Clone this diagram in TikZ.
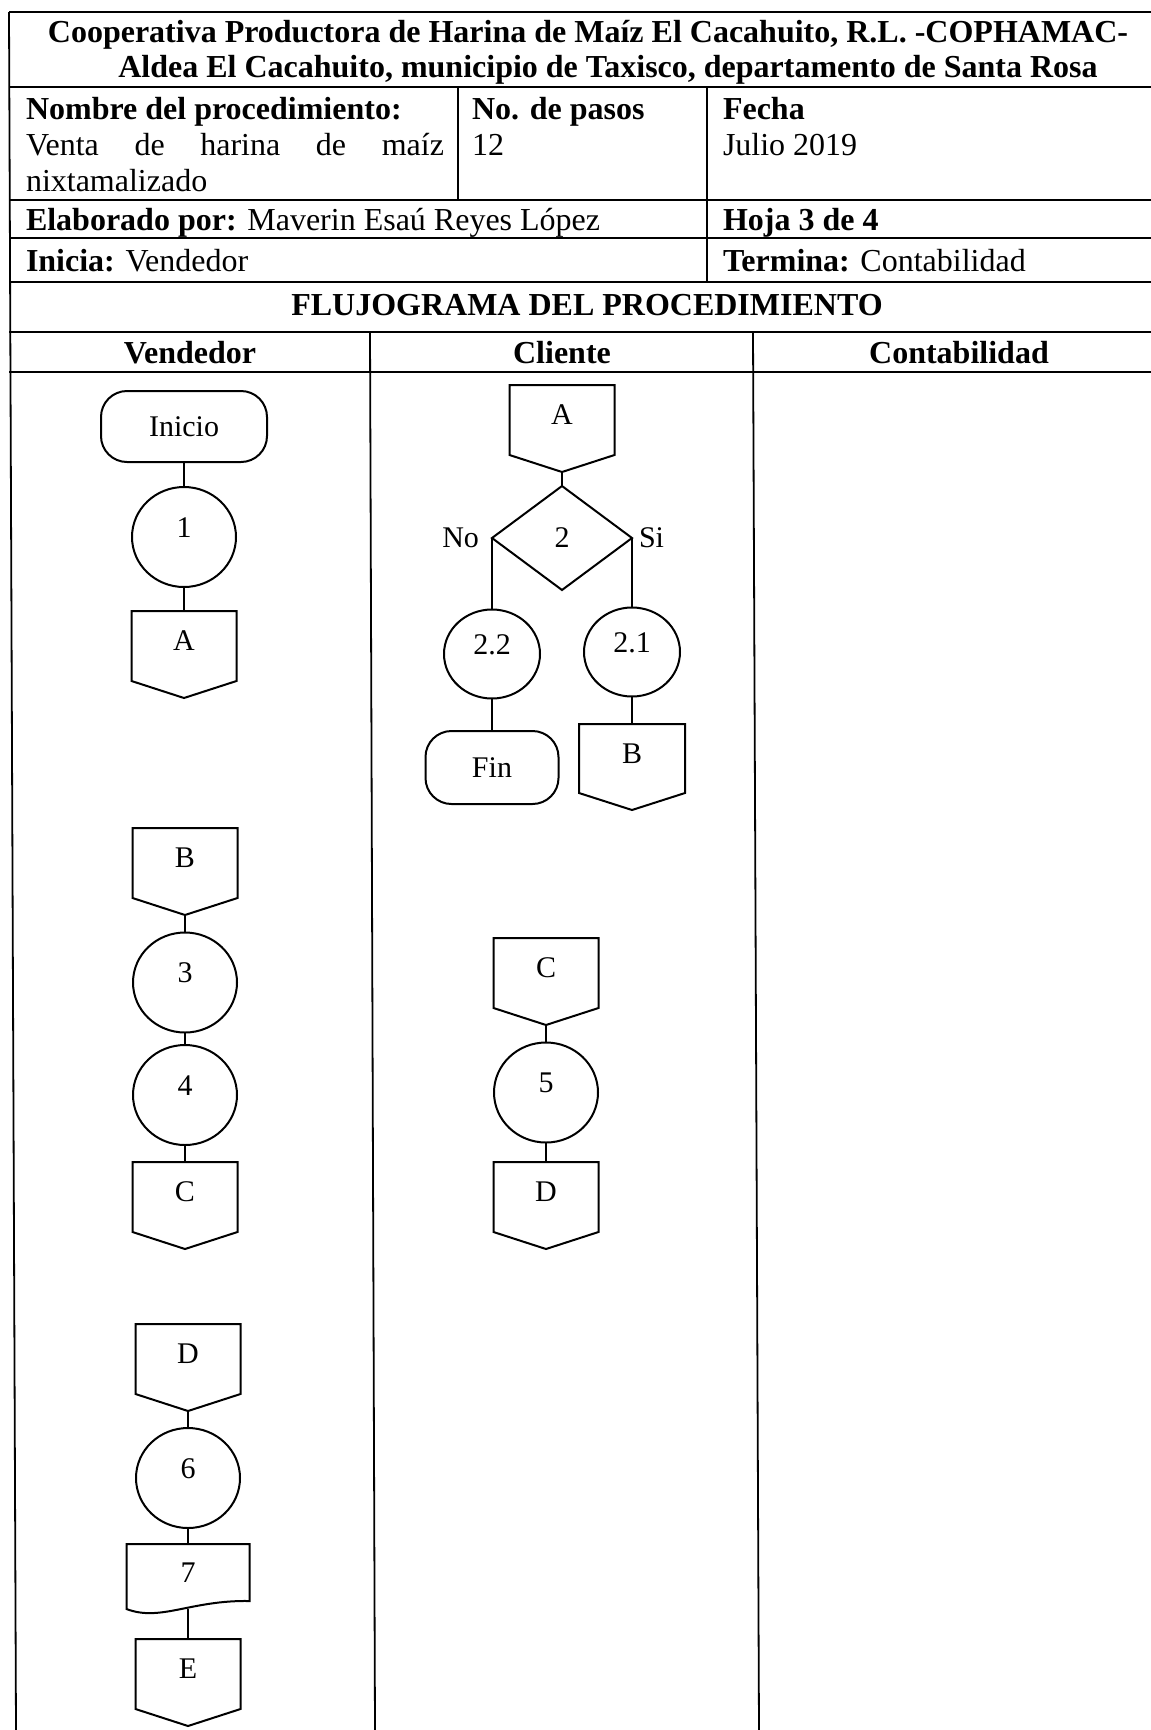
\documentclass[tikz,border=0pt]{standalone}
\usepackage{fontspec}
\setmainfont{Liberation Serif}
\usetikzlibrary{shapes.geometric}
\makeatletter
\newdimen\offtipdim
\offtipdim=17pt
\pgfdeclareshape{offpagecon}{
  \inheritsavedanchors[from=rectangle]
  \inheritanchorborder[from=rectangle]
  \inheritanchor[from=rectangle]{center}
  \inheritanchor[from=rectangle]{text}
  \inheritanchor[from=rectangle]{base}
  \inheritanchor[from=rectangle]{mid}
  \inheritanchor[from=rectangle]{north}
  \inheritanchor[from=rectangle]{south}
  \inheritanchor[from=rectangle]{west}
  \inheritanchor[from=rectangle]{east}
  \inheritanchor[from=rectangle]{north west}
  \inheritanchor[from=rectangle]{north east}
  \inheritanchor[from=rectangle]{south west}
  \inheritanchor[from=rectangle]{south east}
  \backgroundpath{
    \southwest \pgf@xa=\pgf@x \pgf@ya=\pgf@y
    \northeast \pgf@xb=\pgf@x \pgf@yb=\pgf@y
    \pgf@xc=.5\pgf@xa \advance\pgf@xc by .5\pgf@xb
    \pgf@yc=\pgf@ya \advance\pgf@yc by \offtipdim
    \pgfpathmoveto{\pgfqpoint{\pgf@xa}{\pgf@yb}}
    \pgfpathlineto{\pgfqpoint{\pgf@xa}{\pgf@yc}}
    \pgfpathlineto{\pgfqpoint{\pgf@xc}{\pgf@ya}}
    \pgfpathlineto{\pgfqpoint{\pgf@xb}{\pgf@yc}}
    \pgfpathlineto{\pgfqpoint{\pgf@xb}{\pgf@yb}}
    \pgfpathclose
  }
}
\makeatother
\tikzset{
  every node/.style={font=\fontsize{30}{35}\selectfont, inner sep=0pt, outer sep=0pt},
  tb/.style={font=\fontsize{32}{37}\selectfont},
  hd/.style={font=\fontsize{32}{37}\selectfont\bfseries},
  shapeln/.style={draw, line width=2pt},
  proc/.style={shapeln, ellipse, minimum width=104pt, minimum height=100pt, text height=10pt, text depth=10pt},
  conn/.style={shapeln, shape=offpagecon, minimum width=105pt, minimum height=87pt, text height=15pt, text depth=22.5pt, anchor=north},
  term/.style={shapeln, rectangle, rounded corners=26pt, minimum width=166pt, minimum height=71pt},
  dec/.style={shapeln, diamond, minimum width=140pt, minimum height=104pt},
  link/.style={line width=2pt},
  tline/.style={line width=1.8pt},
}
\begin{document}
\begin{tikzpicture}[x=1pt,y=-1pt]
\fill[white] (0,0) rectangle (1151,1730);
\useasboundingbox (0,0) rectangle (1151,1730);
% table
\draw[tline] (9,12) -- (16,1730);
\foreach \yy in {12,87,200,238,282,332,372} {\draw[tline] (9,\yy) -- (1151,\yy);}
\draw[tline] (458,87) -- (458,200);
\draw[tline] (707,87) -- (707,282);
\draw[tline] (370,332) -- (375,1730);
\draw[tline] (753,332) -- (759,1730);
% header texts
\node[hd, anchor=base] (t1) at (588,42) {Cooperativa Productora de Harina de Maíz El Cacahuito, R.L. -COPHAMAC-};
\node[hd, anchor=base] (t2) at (608,77) {Aldea El Cacahuito, municipio de Taxisco, departamento de Santa Rosa};
\node[hd, anchor=base west] (nomh) at (26,119) {Nombre del procedimiento:};
\node[tb, anchor=base west] (nomv) at (26,155) {\makebox[418pt][s]{Venta de harina de maíz}};
\node[tb, anchor=base west] (nomv2) at (26,191) {nixtamalizado};
\node[hd, anchor=base west] (pash) at (472,119) {No. de pasos};
\node[tb, anchor=base west] (pasv) at (472,155) {12};
\node[hd, anchor=base west] (fech) at (723,119) {Fecha};
\node[tb, anchor=base west] (fecv) at (723,155) {Julio 2019};
\node[tb, anchor=base west] (elab) at (26,230) {\textbf{Elaborado por:} Maverin Esaú Reyes López};
\node[hd, anchor=base west] (hoja) at (723,230) {Hoja 3 de 4};
\node[tb, anchor=base west] (ini) at (26,271) {\textbf{Inicia:} Vendedor};
\node[tb, anchor=base west] (term) at (723,271) {\textbf{Termina:} Contabilidad};
\node[hd, anchor=base] (flu) at (587,315) {FLUJOGRAMA DEL PROCEDIMIENTO};
\node[hd, anchor=base] (lv) at (190,363) {Vendedor};
\node[hd, anchor=base] (lc) at (562,363) {Cliente};
\node[hd, anchor=base] (lk) at (959,363) {Contabilidad};
% Vendedor lane
\node[term] (inicio) at (184,426.5) {Inicio};
\node[proc] (c1) at (184,537) {1};
\node[conn] (A1) at (184,611) {A};
\node[conn] (B1) at (185,828) {B};
\node[proc] (c3) at (185,982.5) {3};
\node[proc] (c4) at (185,1095) {4};
\node[conn] (C1) at (185,1162) {C};
\node[conn] (D1) at (188,1324) {D};
\node[proc] (c6) at (188,1478) {6};
\node[minimum width=123pt, minimum height=57pt] (doc7) at (188,1572.5) {7};
\draw[shapeln] (doc7.north west) -- ([yshift=-8pt]doc7.south west)
  .. controls ([xshift=34pt,yshift=-21pt]doc7.south west) and ([xshift=-59pt,yshift=1pt]doc7.south east) .. (doc7.south east)
  -- (doc7.north east) -- cycle;
\node[conn] (E1) at (188,1639) {E};
% Cliente lane
\node[conn] (A2) at (562,385) {A};
\node[dec] (dia) at (562,538) {2};
\node[anchor=east] (lno) at ([xshift=-13pt]dia.west) {No};
\node[anchor=west] (lsi) at ([xshift=7pt]dia.east) {Si};
\node[proc, minimum width=96pt, minimum height=89pt] (c22) at (492,654) {2.2};
\node[term, minimum width=133pt, minimum height=73pt] (fin) at (492,767.5) {Fin};
\node[proc, minimum width=96pt, minimum height=89pt] (c21) at (632,652) {2.1};
\node[conn, minimum width=106pt, minimum height=86pt] (B2) at (632,724) {B};
\node[conn] (C2) at (546,938) {C};
\node[proc] (c5) at (546,1092.5) {5};
\node[conn] (D2) at (546,1162) {D};
% connectors
\draw[link] (inicio.south) -- (c1.north);
\draw[link] (c1.south) -- (A1.north);
\draw[link] (B1.south) -- (c3.north);
\draw[link] (c3.south) -- (c4.north);
\draw[link] (c4.south) -- (C1.north);
\draw[link] (D1.south) -- (c6.north);
\draw[link] (c6.south) -- (doc7.north);
\draw[link] ([yshift=-8pt]doc7.south) -- (E1.north);
\draw[link] (A2.south) -- (dia.north);
\draw[link] (dia.west) -- (c22.north);
\draw[link] (dia.east) -- (c21.north);
\draw[link] (c22.south) -- (fin.north);
\draw[link] (c21.south) -- (B2.north);
\draw[link] (C2.south) -- (c5.north);
\draw[link] (c5.south) -- (D2.north);
\end{tikzpicture}
\end{document}
